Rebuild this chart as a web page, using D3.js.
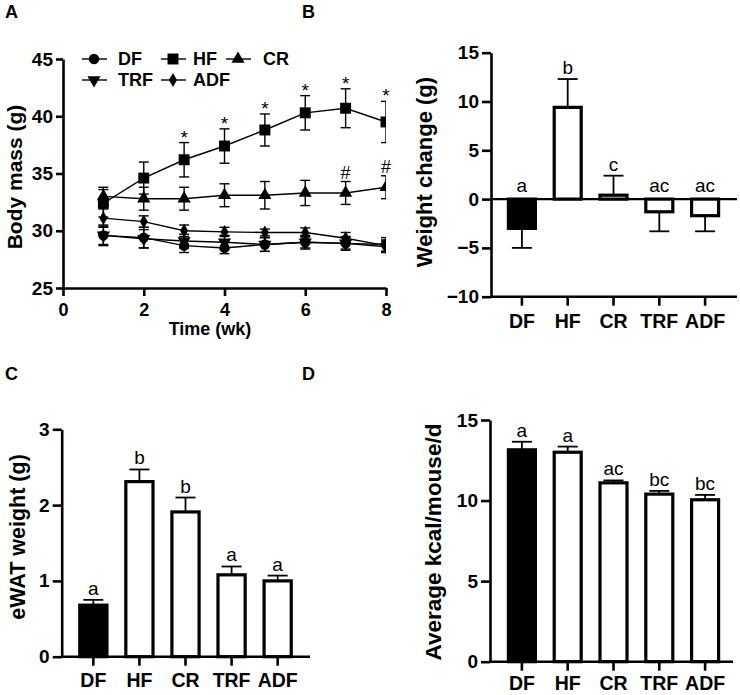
<!DOCTYPE html>
<html><head><meta charset="utf-8">
<script src="https://cdn.jsdelivr.net/npm/d3@7"></script>
<style>
body{margin:0;background:#fff}
svg{display:block}
text{font-family:"Liberation Sans",Arial,Helvetica,sans-serif;fill:#000}
</style>
</head><body>
<svg id="chart" width="740" height="695"></svg>
<script>
// ---------- data ----------
const weeks = [1,2,3,4,5,6,7,8];
const groups = ["DF","HF","CR","TRF","ADF"];

const massDF  = [29.6,29.4,28.7,28.5,28.8,29.0,28.9,28.8];
const errDF   = [0.9,0.9,0.6,0.5,0.6,0.6,0.6,0.6];
const massHF  = [32.4,34.6,36.2,37.4,38.8,40.3,40.7,39.5];
const errHF   = [1.2,1.4,1.5,1.5,1.4,1.5,1.7,1.8];
const massCR  = [33.0,32.8,32.8,33.1,33.1,33.3,33.3,33.8];
const errCR   = [0.8,1.0,1.0,1.0,1.2,1.1,1.0,1.0];
const massTRF = [29.6,29.3,29.1,29.0,28.8,29.0,28.9,28.6];
const errTRF  = [0.8,0.8,0.6,0.6,0.6,0.5,0.5,0.5];
const massADF = [31.1,30.8,30.0,29.9,29.85,29.85,29.35,28.7];
const errADF  = [0.8,0.5,0.5,0.4,0.3,0.4,0.5,0.5];

const sigHFWeeks = [3,4,5,6,7,8];
const sigCRWeeks = [7,8];

const wtChange = [-3.0,9.4,0.4,-1.3,-1.7];
const wtChangeErr = [2.0,2.9,2.0,2.0,1.6];
const wtChangeLetters = ["a","b","c","ac","ac"];

const ewat = [0.68,2.31,1.91,1.08,1.0];
const ewatErr = [0.07,0.16,0.19,0.11,0.07];
const ewatLetters = ["a","b","b","a","a"];

const kcal = [13.15,13.0,11.1,10.4,10.05];
const kcalErr = [0.5,0.35,0.15,0.2,0.3];
const kcalLetters = ["a","a","ac","bc","bc"];

const ticksAx = [0,2,4,6,8];
const ticksAy = [25,30,35,40,45];
const ticksBy = [-10,-5,0,5,10,15];
const ticksCy = [0,1,2,3];
const ticksDy = [0,5,10,15];

// ---------- helpers ----------
const svg = d3.select("#chart");
const AX_W = 2.6;
const fmt = d3.format("d");

function styleAxis(g, fs){
  g.select(".domain").attr("stroke","#000").attr("stroke-width",AX_W);
  g.selectAll(".tick line").attr("stroke","#000").attr("stroke-width",AX_W);
  g.selectAll(".tick text").attr("fill","#000").attr("font-size",fs).attr("font-weight","bold")
   .attr("font-family","'Liberation Sans',Arial,sans-serif");
}
function yTitle(txt,x,y,fs){
  svg.append("text").attr("transform",`translate(${x},${y}) rotate(-90)`)
    .attr("text-anchor","middle").attr("dy","0.35em")
    .attr("font-size",fs).attr("font-weight","bold").text(txt);
}
function panelLabel(txt,x,y){
  svg.append("text").attr("x",x).attr("y",y).attr("font-size",18)
    .attr("font-weight","bold").text(txt);
}

// ---------- Panel A ----------
const xA = d3.scaleLinear().domain([0,8]).range([63,386]);
const yA = d3.scaleLinear().domain([25,45]).range([288,59]);

const series = [
  {name:"DF", v:massDF, e:errDF, sym:d3.symbolCircle, size:85, rot:0},
  {name:"HF", v:massHF, e:errHF, sym:d3.symbolSquare, size:120, rot:0},
  {name:"CR", v:massCR, e:errCR, sym:d3.symbolTriangle, size:75, rot:0},
  {name:"TRF", v:massTRF, e:errTRF, sym:d3.symbolTriangle, size:75, rot:180},
  {name:"ADF", v:massADF, e:errADF, sym:d3.symbolDiamond, size:55, rot:0}
];

svg.append("defs").append("clipPath").attr("id","clipA")
  .append("rect").attr("x",0).attr("y",0).attr("width",xA(8)).attr("height",300);

const gA = svg.append("g").attr("clip-path","url(#clipA)");
const line = d3.line().x((d,i)=>xA(weeks[i])).y(d=>yA(d));
series.forEach(s=>{
  const g = gA.append("g");
  s.v.forEach((v,i)=>{
    const x = xA(weeks[i]);
    g.append("line").attr("x1",x).attr("x2",x).attr("y1",yA(v-s.e[i])).attr("y2",yA(v+s.e[i]))
      .attr("stroke","#000").attr("stroke-width",1.4);
    [v-s.e[i], v+s.e[i]].forEach(c=>{
      g.append("line").attr("x1",x-5).attr("x2",x+5).attr("y1",yA(c)).attr("y2",yA(c))
        .attr("stroke","#000").attr("stroke-width",1.4);
    });
  });
  g.append("path").attr("d",line(s.v)).attr("fill","none").attr("stroke","#000").attr("stroke-width",1.4);
});
series.forEach(s=>{
  gA.append("g").selectAll("path").data(s.v).join("path")
    .attr("d",d3.symbol().type(s.sym).size(s.size))
    .attr("transform",(d,i)=>`translate(${xA(weeks[i])},${yA(d)}) rotate(${s.rot})`)
    .attr("fill","#000");
});
const hfIdx = sigHFWeeks.map(w=>weeks.indexOf(w));
svg.append("g").selectAll("text").data(hfIdx).join("text")
  .attr("x",i=>xA(weeks[i])).attr("y",i=>yA(massHF[i]+errHF[i])+1)
  .attr("text-anchor","middle").attr("font-size",19).attr("fill","#000").text("*");
const crIdx = sigCRWeeks.map(w=>weeks.indexOf(w));
svg.append("g").selectAll("text").data(crIdx).join("text")
  .attr("x",i=>xA(weeks[i])).attr("y",i=>yA(massCR[i]+errCR[i])-3)
  .attr("text-anchor","middle").attr("font-size",18).attr("fill","#000").text("#");

const axAx = svg.append("g").attr("transform",`translate(0,${yA(25)})`)
  .call(d3.axisBottom(xA).tickValues(ticksAx).tickSize(8).tickSizeOuter(0).tickPadding(7));
styleAxis(axAx,18);
const axAy = svg.append("g").attr("transform",`translate(${xA(0)},0)`)
  .call(d3.axisLeft(yA).tickValues(ticksAy).tickSize(7).tickSizeOuter(0).tickPadding(3));
styleAxis(axAy,19);
svg.append("text").attr("x",210).attr("y",335).attr("text-anchor","middle")
  .attr("font-size",18).attr("font-weight","bold").text("Time (wk)");
yTitle("Body mass (g)",15,177,21);

// legend
const legendPos = [[94,59,118],[173,59,193],[238,59,263],[94,80,118],[173,80,193]];
series.forEach((s,i)=>{
  const [sx,sy,tx] = legendPos[i];
  svg.append("line").attr("x1",sx-12).attr("x2",sx+13).attr("y1",sy).attr("y2",sy)
    .attr("stroke","#000").attr("stroke-width",1.4);
  svg.append("path").attr("d",d3.symbol().type(s.sym).size(s.size)())
    .attr("transform",`translate(${sx},${sy}) rotate(${s.rot})`).attr("fill","#000");
  svg.append("text").attr("x",tx).attr("y",sy).attr("dy","0.36em")
    .attr("font-size",18).attr("font-weight","bold").text(s.name);
});

// ---------- bar panels ----------
function barPanel(o){
  const x = d3.scaleBand().domain(groups).range(o.bandRange).paddingInner(0.345).paddingOuter(0.1725);
  const y = d3.scaleLinear().domain(o.yDomain).range(o.yRange);
  const g = svg.append("g");
  const bw = x.bandwidth();
  if(o.zeroLine){
    g.append("line").attr("x1",o.axisX).attr("x2",o.axisEnd).attr("y1",y(0)).attr("y2",y(0))
      .attr("stroke","#000").attr("stroke-width",2.2);
  }
  groups.forEach((k,i)=>{
    const v = o.values[i], e = o.errs[i];
    const cx = x(k)+bw/2;
    const endV = v>=0 ? v+e : v-e;
    g.append("line").attr("x1",cx).attr("x2",cx).attr("y1",y(v)).attr("y2",y(endV))
      .attr("stroke","#000").attr("stroke-width",1.8);
    g.append("line").attr("x1",cx-10).attr("x2",cx+10).attr("y1",y(endV)).attr("y2",y(endV))
      .attr("stroke","#000").attr("stroke-width",1.8);
    const top = y(Math.max(0,v)), bot = y(Math.min(0,v));
    g.append("rect").attr("x",x(k)+1.5).attr("width",bw-3)
      .attr("y",top).attr("height",Math.max(0,bot-top))
      .attr("fill",i===0?"#000":"#fff").attr("stroke","#000").attr("stroke-width",3.2);
    const ly = v>=0 ? y(v+e)-5 : y(0)-7;
    g.append("text").attr("x",cx).attr("y",ly).attr("text-anchor","middle")
      .attr("font-size",19).text(o.letters[i]);
  });
  const yB = y(o.yDomain[0]);
  const ax = svg.append("g").attr("transform",`translate(0,${yB})`)
    .call(d3.axisBottom(x).tickSize(9).tickSizeOuter(0).tickPadding(o.xPad));
  ax.select(".domain").remove();
  styleAxis(ax,19.5);
  svg.append("line").attr("x1",o.axisX).attr("x2",o.axisEnd).attr("y1",yB).attr("y2",yB)
    .attr("stroke","#000").attr("stroke-width",AX_W);
  const ay = svg.append("g").attr("transform",`translate(${o.axisX},0)`)
    .call(d3.axisLeft(y).tickValues(o.yTicks).tickFormat(fmt).tickSize(9).tickSizeOuter(0).tickPadding(3));
  styleAxis(ay,19);
  yTitle(o.title,o.titleX,o.titleY,o.titleSize);
}

barPanel({bandRange:[499,728], yDomain:[-10,15], yRange:[296.7,52.7], yTicks:ticksBy,
  values:wtChange, errs:wtChangeErr, letters:wtChangeLetters, axisX:491, axisEnd:737, xPad:8,
  zeroLine:true, title:"Weight change (g)", titleX:424, titleY:172, titleSize:22});
barPanel({bandRange:[70.3,300.7], yDomain:[0,3], yRange:[656.7,429.3], yTicks:ticksCy,
  values:ewat, errs:ewatErr, letters:ewatLetters, axisX:61.7, axisEnd:310, xPad:7,
  zeroLine:false, title:"eWAT weight (g)", titleX:17, titleY:537, titleSize:21.5});
barPanel({bandRange:[499,728], yDomain:[0,15], yRange:[661.7,420], yTicks:ticksDy,
  values:kcal, errs:kcalErr, letters:kcalLetters, axisX:490, axisEnd:733, xPad:5,
  zeroLine:false, title:"Average kcal/mouse/d", titleX:433, titleY:542, titleSize:22.5});

panelLabel("A",5,18);
panelLabel("B",302,18);
panelLabel("C",5,380);
panelLabel("D",302,380);
</script>
</body></html>
